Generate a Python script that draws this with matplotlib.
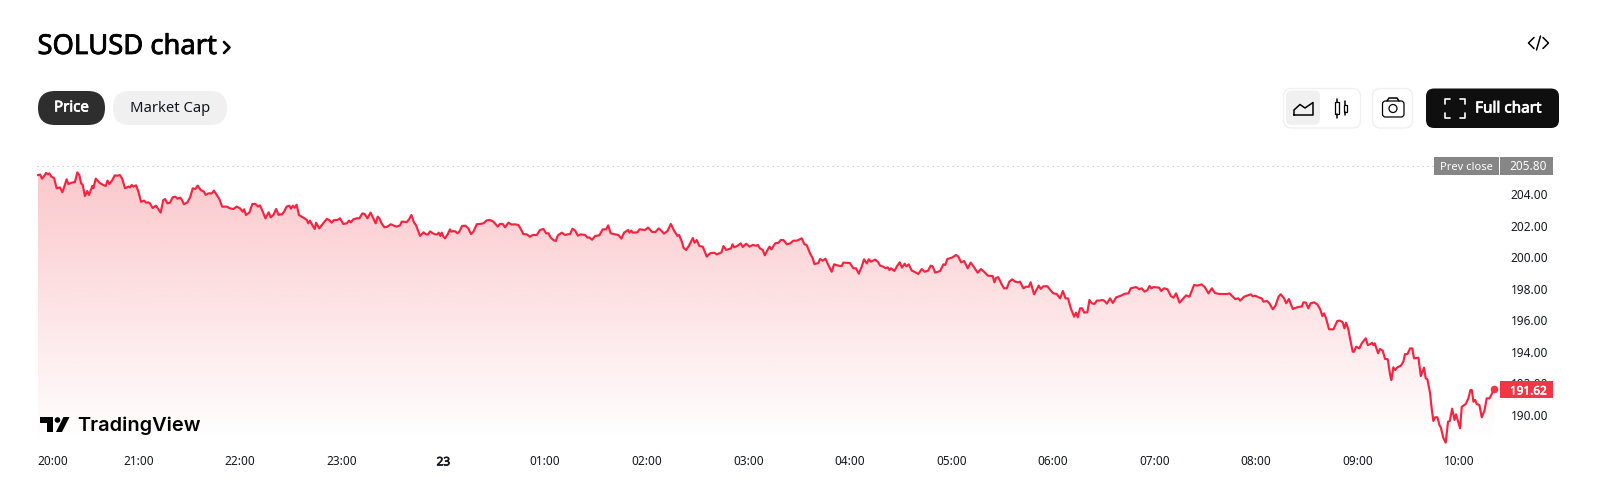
#--------------------------------------------------------------
# Packages
import matplotlib
matplotlib.use('Agg')
import matplotlib.pyplot as plt
import matplotlib.patheffects as pe
from matplotlib.patches import FancyBboxPatch, Circle, Polygon, Rectangle
import numpy as np

#--------------------------------------------------------------
# Series, minutes after 20:00 and price in USD
minutes_20h = [0.6,1.8,3.0,4.5,5.3,6.5,7.3,8.5,10.1,11.6,13.6,15.0,16.1,17.5,18.5,20.5,22.4,23.8,25.0,26.0,27.0,28.3,29.7,30.7,32.7,33.3,34.7,36.8,38.8,40.6,41.7,42.7,44.3,45.9,47.4,49.0,50.2,52.0,54.0,54.9,55.9,56.9,58.5,59.9,
               61.4,63.2,64.4,65.8,66.7,68.3,70.3,71.7,73.0,74.6,75.6,77.0,78.5,80.1,81.7,82.9,84.5,85.4,86.8,88.8,90.4,92.0,93.5,94.9,96.7,98.6,99.6,101.2,103.2,104.5,106.1,107.7,109.3,112.0,114.0,116.0,117.9,119.9,121.5,122.3,123.4,125.4,127.2,129.0,130.5,131.7,133.3,134.9,136.8,138.0,139.6,141.2,142.7]
prices_20h = [205.20,205.23,204.97,205.18,205.33,205.25,205.31,205.10,205.01,204.36,204.42,204.11,204.47,204.93,204.63,204.72,204.76,205.37,205.20,204.68,204.57,203.87,204.19,203.94,204.51,204.38,204.97,204.72,204.59,204.51,204.85,204.63,204.85,205.18,205.16,205.20,204.99,204.36,204.47,204.42,204.57,204.47,204.55,204.15,
              203.51,203.58,203.45,203.47,203.41,203.11,203.26,203.03,202.82,203.62,203.68,203.41,203.45,203.79,203.83,203.70,203.77,203.66,203.35,203.47,203.79,204.36,204.32,204.53,204.25,204.15,203.94,204.04,204.04,204.21,203.94,203.68,203.20,203.20,203.09,203.05,203.20,203.09,202.88,203.03,202.67,202.82,203.37,203.37,203.20,203.28,202.88,202.46,202.84,202.52,202.67,203.05,202.67]

minutes_22h = [143.5,144.7,145.9,147.4,149.0,150.0,151.0,152.2,153.3,154.7,156.3,157.7,159.3,160.2,161.2,162.6,164.0,164.8,166.7,168.7,171.1,172.6,174.0,175.4,177.4,178.9,180.9,182.9,184.3,185.2,186.8,188.8,190.4,192.1,193.5,195.1,197.0,198.6,200.0,201.2,202.2,203.5,205.1,206.9,208.9,210.8,212.4,214.4,215.4,218.3,219.7,221.1,222.6,223.8,226.2,228.2,229.7,230.9,232.1,233.7,235.2,236.4,237.2,238.2,239.0,240.0,241.0,242.5,243.9,244.7,245.9,247.1,248.2,249.4,251.0,253.0,254.7,256.3,257.7,259.7,261.6,263.6,265.6,267.5,269.5,272.1,273.4,275.0,276.4,278.4,280.3,282.3,284.3,286.0,287.2,289.2,291.1]
prices_22h = [202.71,202.71,202.88,203.20,203.26,203.07,203.26,203.13,203.32,202.67,202.56,202.48,202.35,202.14,202.31,202.03,201.78,202.18,201.82,202.10,202.42,202.35,202.18,202.35,202.35,202.46,202.10,202.14,202.31,202.20,202.39,202.46,202.46,202.77,202.73,202.46,202.82,202.46,202.14,202.56,202.46,202.14,201.89,201.93,202.08,201.99,201.93,202.01,202.25,202.22,202.39,202.67,202.20,202.03,201.34,201.57,201.44,201.44,201.63,201.51,201.44,201.44,201.55,201.34,201.55,201.29,201.19,201.44,201.76,201.61,201.65,201.63,201.51,201.61,201.97,201.99,201.82,201.46,201.61,202.08,202.10,202.14,202.33,202.35,202.25,201.93,202.10,202.10,201.89,202.18,202.06,202.08,202.03,201.72,201.46,201.44,201.29]

minutes_00h = [292.8,295.1,297.1,299.1,300.6,302.0,303.4,305.0,306.4,307.5,309.9,311.9,313.2,314.8,316.2,317.8,319.4,321.1,323.7,325.1,326.2,327.8,329.6,332.1,334.1,336.1,337.3,338.8,341.4,343.4,345.1,346.7,349.1,349.9,350.9,351.8,354.6,355.8,359.1,360.9,363.3,365.2,367.2,368.6,370.3,372.3,374.3,376.2,377.2,378.2,379.2,380.8,381.8,383.3,384.9,387.3,388.3,389.6,391.2,393.2,395.5,397.5,399.9,401.4,403.0,404.2,405.4,407.0,408.5,409.9,410.7,411.7,413.7,415.6,416.8,418.8,420.7,422.7,424.5,425.7,427.0,428.6,429.8,431.4,432.6,433.7,435.9,437.9,439.2,440.8,442.8]
prices_00h = [201.40,201.40,201.72,201.78,201.51,201.51,201.23,201.08,201.02,201.36,201.55,201.40,201.44,201.46,201.80,201.68,201.36,201.44,201.40,201.23,201.25,201.10,201.34,201.38,201.76,201.76,202.01,201.51,201.44,201.40,201.17,201.55,201.72,201.55,201.68,201.55,201.57,201.76,201.72,201.87,201.59,201.59,201.82,201.68,201.49,201.65,202.10,201.68,201.51,201.34,201.40,200.98,200.60,200.45,200.70,201.21,200.91,201.08,200.70,200.66,200.03,200.24,200.28,200.17,200.24,200.30,200.70,200.45,200.51,200.55,200.81,200.62,200.72,200.87,200.64,200.85,200.66,200.77,200.72,200.77,200.55,200.45,200.11,200.45,200.66,200.49,200.87,200.91,201.08,201.08,200.81]

minutes_03h = [444.7,446.7,448.6,449.6,451.6,453.2,454.5,456.5,458.1,459.1,461.4,462.4,464.0,465.6,467.3,469.3,470.7,473.2,475.2,476.2,480.1,482.1,483.7,485.3,487.0,488.4,490.0,491.2,492.5,494.9,496.5,497.9,499.8,501.2,502.4,503.4,504.4,506.3,508.1,509.5,510.8,512.4,513.4,514.8,516.6,518.5,520.5,522.5,524.2,526.2,527.8,528.9,530.5,533.3,535.3,536.4,537.6,540.2,542.7,544.1,545.7,547.5,549.6,551.4,553.4,555.5,557.5,559.3,561.6,564.4,565.4,566.4,567.7,569.7,571.1,572.7,574.2,576.0,577.6,579.2,580.5,582.5,584.1,585.7,586.8,588.8,591.6,592.7,594.3,596.7,598.7,600.2,602.2]
prices_03h = [200.87,201.04,201.04,201.08,201.19,200.81,200.77,200.24,199.92,199.56,199.62,199.88,199.77,199.90,199.50,199.07,199.54,199.46,199.43,199.65,199.62,199.29,199.29,198.95,199.39,199.86,199.60,199.86,199.71,199.84,199.71,199.46,199.39,199.29,199.35,199.18,199.29,199.12,199.46,199.67,199.33,199.58,199.41,199.54,199.14,199.05,198.93,199.24,199.07,199.14,199.46,199.41,199.01,199.12,199.54,199.50,199.88,199.96,200.13,200.03,199.67,199.75,199.29,199.65,199.35,199.01,199.24,199.07,198.82,198.80,198.40,198.69,198.72,198.27,198.02,198.02,198.44,198.59,198.44,198.40,198.44,198.02,198.12,198.12,198.40,197.64,198.19,197.98,198.15,198.15,197.87,197.70,197.66]

minutes_06h = [604.2,605.8,607.4,608.9,610.5,612.5,613.6,614.6,616.0,617.2,618.4,620.3,621.5,622.9,624.5,625.9,627.4,629.4,630.4,631.8,633.7,635.3,637.3,639.6,642.6,644.6,645.9,647.5,649.1,650.9,652.4,654.0,655.8,657.0,658.1,659.3,662.7,663.9,665.6,667.6,669.6,671.1,672.7,674.7,676.6,678.6,680.6,683.3,685.3,687.7,689.6,691.8,693.8,695.7,698.3,700.7,703.0,704.2,705.6,707.6,709.5,710.5,712.9,716.8,718.0,719.4,721.3,723.3,724.3,726.3,727.8,729.8,731.4,733.2,734.5,736.5,737.7,739.3,741.6,744.0]
prices_06h = [197.38,197.85,197.38,197.38,196.75,196.22,196.48,196.18,196.75,196.75,196.48,196.50,197.28,197.07,197.03,197.24,197.24,197.28,197.22,197.05,197.38,197.09,197.45,197.53,197.68,197.70,198.02,198.06,198.10,197.96,198.02,197.81,197.91,198.17,198.02,198.10,198.06,197.85,198.02,197.96,197.53,197.43,197.70,197.11,197.34,197.57,197.49,198.23,198.19,198.27,198.10,197.70,198.02,197.72,197.66,197.66,197.66,197.70,197.55,197.34,197.38,197.24,197.49,197.64,197.51,197.55,197.45,197.38,197.17,197.22,197.07,196.69,196.92,197.49,197.64,197.38,197.07,197.34,196.71,196.81]

minutes_08h = [745.9,746.9,747.9,749.4,750.8,752.2,754.2,756.1,757.7,759.1,760.1,761.3,763.0,765.6,767.9,769.5,771.1,772.1,773.1,774.4,775.4,777.0,777.8,779.0,780.9,782.3,784.7,785.9,787.6,788.4,789.2,790.0,792.0,793.1,794.7,796.1,797.7,799.1,799.8,801.0,802.0,803.4,805.4,806.9,807.9,809.3,810.9,812.2,813.2,815.8,817.2,819.1,820.1,821.1,822.7,823.5,824.6,825.6,827.0,828.2,829.0,830.6,831.9,833.3,834.3,835.7,837.1,838.0,840.4,841.4,843.7,845.3,846.5,847.3,848.3,849.3,850.2,851.8,853.2,854.8,856.1,857.7,858.5,860.5]
prices_08h = [196.86,196.86,197.13,197.11,196.75,197.07,197.13,197.00,196.71,196.26,196.43,196.11,195.42,195.42,195.95,195.97,195.86,195.48,195.84,195.42,194.85,194.00,194.00,194.32,194.21,194.53,194.85,194.42,194.49,194.57,194.42,194.53,193.90,194.17,194.07,193.54,193.52,192.52,192.20,193.01,192.84,193.01,193.11,193.37,193.85,193.85,194.21,194.21,193.58,193.62,192.46,192.99,192.31,192.25,191.36,190.51,189.61,189.84,189.84,189.35,189.20,188.51,188.23,189.56,189.60,190.39,189.67,190.03,189.14,190.51,190.68,191.04,191.57,191.57,190.83,190.94,190.68,190.62,189.84,190.26,191.04,191.04,191.19,191.62]

prev_close = 205.80
last_price = 191.62

price_ticks = [190,192,194,196,198,200,202,204]
time_labels = ['20:00','21:00','22:00','23:00','23','01:00','02:00','03:00','04:00','05:00','06:00','07:00','08:00','09:00','10:00']

minutes = np.array(minutes_20h+minutes_22h+minutes_00h+minutes_03h+minutes_06h+minutes_08h)
prices  = np.array(prices_20h+prices_22h+prices_00h+prices_03h+prices_06h+prices_08h)

#--------------------------------------------------------------
# Colours and fonts
RED     = '#f7233f'
LABEL   = '#f23645'
GREY    = '#868686'
TXT     = '#131722'
PILL    = '#f0f0f0'
FONT    = 'Noto Sans'
plt.rcParams['font.family'] = [FONT,'DejaVu Sans']

# Noto Sans comes in one weight here, a thin outline stands in for the heavier ones
def heavy(txt,w,c):
    txt.set_path_effects([pe.withStroke(linewidth=w,foreground=c)])

W,H = 1600,495
fig = plt.figure(figsize=(W/100,H/100),dpi=100,facecolor='white')

#--------------------------------------------------------------
# Price area. One hour is 101.6 px and two dollars are 31.54 px
L,R,T,B = 37,1500,150,445
ax = fig.add_axes([L/W,1-B/H,(R-L)/W,(B-T)/H])
ax.set_facecolor('none')
for s in ax.spines.values():
    s.set_visible(False)

x0,x1 = 0,(R-L)*60/101.6
y_of  = lambda py: 204-(py-194)/15.77
y0,y1 = y_of(B),y_of(T)

# Gradient under the line, clipped to the area polygon
grad = np.zeros((256,1,4))
grad[:,:,:3] = matplotlib.colors.to_rgb('#f23645')
grad[:,0,3]  = np.linspace(0.28,0.0,256)
im = ax.imshow(grad,extent=[x0,x1,y_of(441),y_of(168)],aspect='auto',zorder=1,origin='upper')
poly = Polygon(np.vstack([[minutes[0],y0],np.column_stack([minutes,prices]),[minutes[-1],y0]]),
               closed=True,transform=ax.transData,fc='none',ec='none')
ax.add_patch(poly)
im.set_clip_path(poly)

ax.plot(minutes,prices,color=RED,lw=1.55,zorder=3,solid_joinstyle='round')
ax.plot([minutes[-1]],[last_price],'o',color=LABEL,ms=5.5,mew=0,zorder=4)
ax.plot([x0,(1433-L)*60/101.6],[prev_close,prev_close],color='#bdbdbd',lw=0.8,dashes=(1,3.5),zorder=2)

ax.set_xlim(x0,x1)
ax.set_ylim(y0,y1)

ax.yaxis.tick_right()
ax.set_yticks(price_ticks)
ax.set_yticklabels([f'{v:.2f}' for v in price_ticks],fontsize=8.5,color=TXT)
ax.tick_params(axis='y',length=0,pad=7.5)

ax.set_xticks(np.arange(len(time_labels))*60)
ax.set_xticklabels(time_labels,fontsize=8.5,color=TXT)
ax.tick_params(axis='x',length=0,pad=7.5)
ax.get_xticklabels()[0].set_ha('left')
heavy(ax.get_xticklabels()[4],0.5,TXT)

#--------------------------------------------------------------
# Page furniture, drawn in pixel coordinates
ui = fig.add_axes([0,0,1,1])
ui.set_xlim(0,W)
ui.set_ylim(H,0)
ui.axis('off')
ui.patch.set_alpha(0)

def box(x0,y0,x1,y1,fc,ec='none',r=8,lw=1,z=5):
    ui.add_patch(FancyBboxPatch((x0,y0),x1-x0,y1-y0,boxstyle=f'round,pad=0,rounding_size={r}',fc=fc,ec=ec,lw=lw,zorder=z))

def stroke(xs,ys,c='black',lw=1.1,z=7):
    ui.plot(xs,ys,color=c,lw=lw,zorder=z,solid_capstyle='round',solid_joinstyle='round')

# Title
heavy(ui.text(37.5,47,'SOLUSD chart',fontsize=19.7,color='black',va='center',ha='left'),0.55,'black')
stroke([224,229.5,224],[42,47.5,53],lw=1.9)

# Embed icon
stroke([1534,1528.5,1534],[37.5,43,48.5])
stroke([1543,1548.5,1543],[37.5,43,48.5])
stroke([1536.5,1540.5],[50,36])

# Price / Market Cap pills
box(38,91,105,125,'#2e2e2e',r=17)
heavy(ui.text(71.5,108,'Price',fontsize=10.8,color='white',ha='center',va='center',zorder=6),0.5,'white')
box(113,91,227,125,PILL,r=17)
ui.text(170,108,'Market Cap',fontsize=10.7,color=TXT,ha='center',va='center',zorder=6)

# Chart type group
box(1283.5,88.5,1360.5,128,'white',ec='#f0f0f0')
box(1286,90.5,1320,125,PILL,r=6)
stroke([1294,1294,1300,1305,1313,1313,1294],[115,110,104.5,108,102.5,115,115])
ui.add_patch(Rectangle((1335,102),3.6,12,fc='white',ec='black',lw=0.9,zorder=7))
stroke([1336.8,1336.8],[98.5,102]); stroke([1336.8,1336.8],[114,117.5])
ui.add_patch(Rectangle((1343.5,104.5),3,7.5,fc='white',ec='black',lw=0.9,zorder=7))
stroke([1345,1345],[101,104.5]); stroke([1345,1345],[112,115])

# Camera
box(1372.5,88.5,1412.5,128,'white',ec='#f0f0f0')
box(1382.5,101,1404,117,'white',ec='black',r=3,lw=0.9,z=6)
stroke([1387,1389,1397,1399],[101,98,98,101])
ui.add_patch(Circle((1393,108.5),4,fc='none',ec='black',lw=0.9,zorder=7))

# Full chart button
box(1426,88.5,1559,128,'#0f0f0f')
heavy(ui.text(1508.5,109,'Full chart',fontsize=11,color='white',ha='center',va='center',zorder=6),0.5,'white')
for cx,cy,dx,dy in [(1445,99,1,1),(1465,99,-1,1),(1445,117.5,1,-1),(1465,117.5,-1,-1)]:
    stroke([cx,cx,cx+dx*5],[cy+dy*5,cy,cy],c='white',lw=1.2)

# Prev close and last price tags
ui.add_patch(Rectangle((1433.5,157),65.5,17.5,fc=GREY,ec='none',zorder=5))
ui.add_patch(Rectangle((1500,157),53,17.5,fc=GREY,ec='none',zorder=5))
ui.text(1466,167,'Prev close',fontsize=8,color='white',ha='center',va='center',zorder=6)
ui.text(1528.5,167,f'{prev_close:.2f}',fontsize=8.5,color='white',ha='center',va='center',zorder=6)
ui.add_patch(Rectangle((1500,381),53,17,fc=LABEL,ec='none',zorder=5))
heavy(ui.text(1528.5,391,f'{last_price:.2f}',fontsize=8.5,color='white',ha='center',va='center',zorder=6),0.4,'white')

# TradingView mark
ui.add_patch(Polygon([(40,417),(53,417),(53,432),(47,432),(47,422.5),(40,422.5)],fc='black',ec='none',zorder=6))
ui.add_patch(Circle((57.5,420),2.8,fc='black',ec='none',zorder=6))
ui.add_patch(Polygon([(63.5,417),(69.5,417),(62,432),(56,432)],fc='black',ec='none',zorder=6))
ui.text(77,426,'TradingView',family='Inter',fontsize=14.4,fontweight=600,color='black',ha='left',va='center',zorder=6)

fig.savefig('out.png',dpi=100)
